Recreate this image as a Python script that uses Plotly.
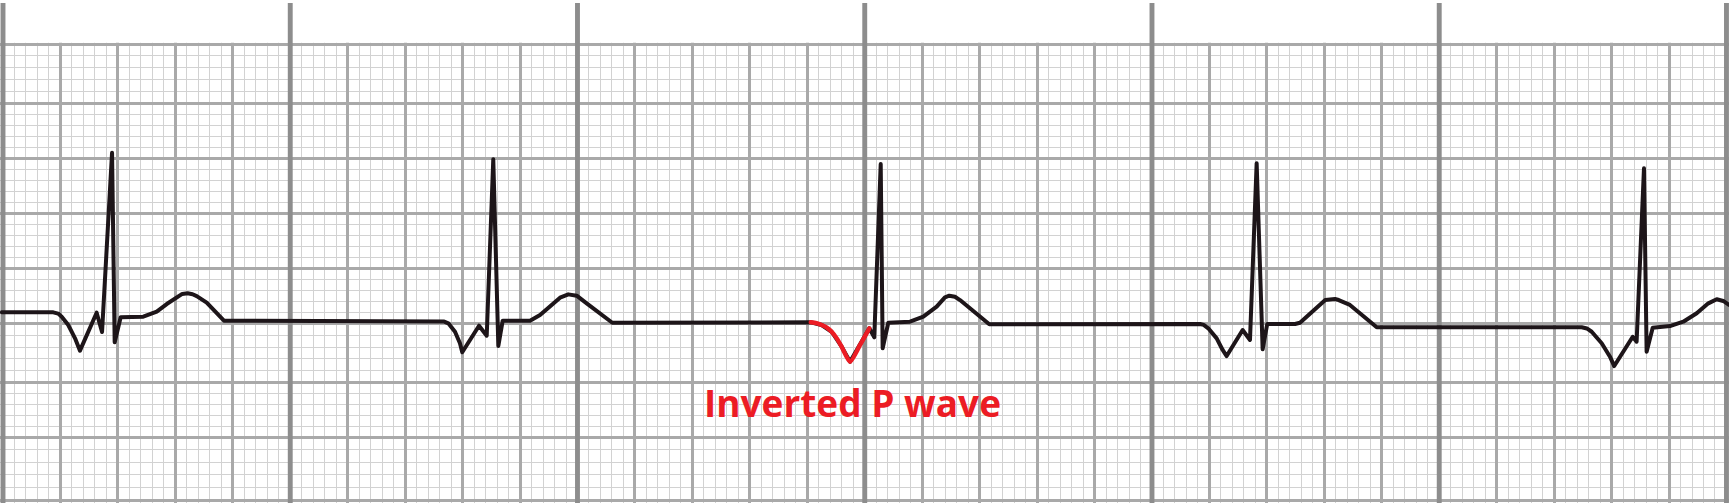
import plotly.graph_objects as go

# ---------------- data (mm on the ECG paper: x from strip start, y above bottom grid line) -------------
ecg_x = [-0.09, 4.38, 4.80, 5.11, 5.68, 6.27, 6.70, 8.15, 8.62, 9.49, 9.72, 10.24, 12.21, 13.38, 14.25, 15.12,
         15.60, 16.07, 16.50, 16.86, 17.73, 19.23,
         38.03, 38.40, 38.76, 39.34, 39.77, 39.97, 41.43, 42.10, 42.67, 43.11, 43.49, 45.87, 46.74, 47.61, 48.48,
         49.20, 49.93, 50.80, 53.03,
         70.30, 71.25, 72.12, 72.99, 73.72, 74.59, 75.40, 75.83, 76.39, 76.56, 77.05, 78.94, 80.10, 81.26,
         81.98, 82.36, 82.85, 83.29, 84.45, 85.84,
         104.18, 104.50, 104.90, 105.63, 106.15, 106.50, 107.89, 108.53, 109.11, 109.63, 110.03, 112.45, 112.88,
         113.46, 114.04, 114.62, 115.08, 115.93, 116.25, 117.23, 119.56,
         137.40, 137.85, 138.27, 139.14, 139.86, 140.23, 141.84, 142.18, 142.82, 143.05, 143.58, 145.08, 146.24,
         147.41, 148.42, 149.15, 149.72, 150.22]
ecg_y = [16.46, 16.46, 16.35, 16.08, 15.35, 14.18, 13.10, 16.43, 14.74, 30.46, 13.83, 16.03, 16.08, 16.52, 17.19, 17.83,
         18.08, 18.13, 18.05, 17.89, 17.31, 15.73,
         15.73, 15.65, 15.50, 14.76, 13.75, 12.96, 15.29, 14.41, 29.89, 13.51, 15.73, 15.73, 16.23, 17.02, 17.75,
         18.04, 17.92, 17.25, 15.55,
         15.59, 15.35, 14.76, 13.45, 12.13, 13.60, 15.06, 14.27, 29.47, 13.31, 15.55, 15.64, 16.08, 16.96,
         17.78, 17.92, 17.83, 17.54, 16.52, 15.41,
         15.44, 15.36, 15.06, 14.18, 13.16, 12.63, 14.91, 14.04, 29.54, 13.22, 15.44, 15.44, 15.55,
         16.08, 16.67, 17.19, 17.54, 17.63, 17.54, 17.11, 15.15,
         15.15, 15.05, 14.76, 13.75, 12.57, 11.75, 14.32, 13.89, 29.10, 13.01, 15.11, 15.26, 15.64,
         16.38, 17.25, 17.61, 17.46, 17.11]

# highlighted inverted P wave (third beat)
p_x = [70.30, 70.80, 71.25, 71.70, 72.12, 72.55, 72.99, 73.72, 74.59, 75.40]
p_y = [15.59, 15.52, 15.35, 15.12, 14.76, 14.20, 13.45, 12.13, 13.60, 15.06]

label_text = "Inverted P wave"
label_x = 73.93
label_y = 8.54

# medium grid line heights (mm) as read from the paper, bottom to top
major_y = [0.0, 5.50, 10.29, 15.50, 20.29, 25.15, 30.00, 34.80, 40.0]
thick_x = [0, 25, 50, 75, 100, 125, 150]

# ---------------- styling ----------------
minor_y = []
for a, b in zip(major_y[:-1], major_y[1:]):
    for k in range(1, 5):
        minor_y.append(a + (b - a) * k / 5)

fig = go.Figure()
fig.add_trace(go.Scatter(x=ecg_x, y=ecg_y, mode="lines",
                         line=dict(color="#1d1519", width=4.0), hoverinfo="skip"))
fig.add_trace(go.Scatter(x=p_x, y=p_y, mode="lines", line_shape="spline",
                         line=dict(color="#ec1c24", width=4.4, smoothing=0.6), hoverinfo="skip"))

shapes = [dict(type="rect", xref="x", yref="y", x0=-2, x1=152, y0=40.12, y1=46,
               fillcolor="white", line=dict(width=0), layer="between")]
for xv in thick_x:
    shapes.append(dict(type="line", xref="x", yref="y", x0=xv, x1=xv, y0=-1, y1=43.6,
                       line=dict(color="#8d8d8d", width=4.9), layer="between"))

fig.update_layout(
    width=1729, height=503,
    margin=dict(l=0, r=0, t=0, b=0),
    paper_bgcolor="white", plot_bgcolor="white",
    showlegend=False,
    shapes=shapes,
    annotations=[dict(x=label_x, y=label_y, xref="x", yref="y", text=label_text,
                      showarrow=False, xanchor="center", yanchor="middle",
                      font=dict(family="Open Sans", size=37, color="#ec1c24", weight="bold"))],
    xaxis=dict(range=[-0.261, 150.22], showticklabels=False, ticks="", zeroline=False, showline=False,
               tickmode="linear", tick0=0, dtick=5, showgrid=True, gridcolor="#a9a9a9", gridwidth=2.6,
               minor=dict(tick0=0, dtick=1, showgrid=True, gridcolor="#d2d2d2", gridwidth=1),
               fixedrange=True),
    yaxis=dict(range=[-0.263, 43.86], showticklabels=False, ticks="", zeroline=False, showline=False,
               tickmode="array", tickvals=major_y, showgrid=True, gridcolor="#a9a9a9", gridwidth=2.6,
               minor=dict(tickmode="array", tickvals=minor_y, showgrid=True, gridcolor="#d2d2d2",
                          gridwidth=1),
               fixedrange=True),
)

fig.write_html(
    "out.html", config={"displayModeBar": False},
    post_script=("document.body.style.margin='0';document.body.style.overflow='hidden';"
                 "document.head.insertAdjacentHTML('beforeend',"
                 "'<style>.scatterlayer .js-line{stroke-linejoin:round;stroke-linecap:round}</style>');"))
